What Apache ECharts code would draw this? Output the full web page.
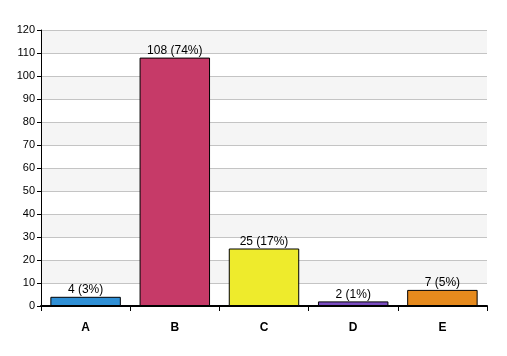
<!DOCTYPE html>
<html><head><meta charset="utf-8">
<script src="https://cdn.jsdelivr.net/npm/echarts@6/dist/echarts.min.js"></script>
<style>html,body{margin:0;padding:0;background:#fff}#c{width:507px;height:356px}</style>
</head><body><div id="c"></div>
<script>
var categories = ['A','B','C','D','E'];
var values = [4,108,25,2,7];
var percents = ['3%','74%','17%','1%','5%'];
var colors = ['#2f8fd5','#c63a68','#eeeb2c','#7a4cc0','#e68a1d'];
var yTicks = [0,10,20,30,40,50,60,70,80,90,100,110,120];

var chart = echarts.init(document.getElementById('c'), null, {renderer:'canvas'});
chart.setOption({
  animation:false,
  backgroundColor:'#fff',
  grid:{left:41,right:20,top:30,bottom:50,containLabel:false},
  xAxis:{
    type:'category', data:categories,
    axisLine:{show:true,lineStyle:{color:'#000',width:2}},
    axisTick:{show:true,alignWithLabel:false,length:5,lineStyle:{color:'#000',width:1}},
    axisLabel:{color:'#000',fontFamily:'Liberation Sans, Arial, sans-serif',fontSize:12,fontWeight:'bold',margin:16}
  },
  yAxis:{
    type:'value', min:yTicks[0], max:yTicks[yTicks.length-1], interval:10,
    axisLine:{show:true,lineStyle:{color:'#000',width:1}},
    axisTick:{show:true,length:4,lineStyle:{color:'#000'}},
    axisLabel:{color:'#000',fontFamily:'Liberation Sans, Arial, sans-serif',fontSize:11,margin:6},
    splitLine:{show:true,lineStyle:{color:'#c4c4c4',width:1}},
    splitArea:{show:true,areaStyle:{color:['#ffffff','#f5f5f5']}}
  },
  series:[{
    type:'bar',
    data:values.map(function(v,i){return {value:v,itemStyle:{color:colors[i]}};}),
    barCategoryGap:'21%',
    itemStyle:{borderColor:'#000',borderWidth:1},
    label:{show:true,position:'top',distance:1,color:'#000',
      fontFamily:'Liberation Sans, Arial, sans-serif',fontSize:12,
      formatter:function(p){return p.value+' ('+percents[p.dataIndex]+')';}}
  }]
});
</script></body></html>
